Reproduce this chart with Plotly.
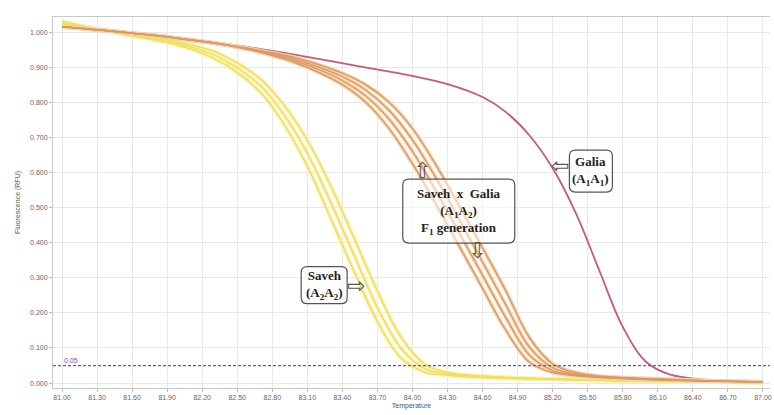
import plotly.graph_objects as go

# ---------------- data ----------------
X_TICKS = [81.0, 81.3, 81.6, 81.9, 82.2, 82.5, 82.8, 83.1, 83.4, 83.7, 84.0,
           84.3, 84.6, 84.9, 85.2, 85.5, 85.8, 86.1, 86.4, 86.7, 87.0]
Y_TICKS = [0.0, 0.1, 0.2, 0.3, 0.4, 0.5, 0.6, 0.7, 0.8, 0.9, 1.0]
THRESHOLD = 0.05

SAVEH_T = [81.0, 81.5, 82.0, 82.3, 82.5, 82.7, 82.9, 83.1, 83.3, 83.5, 83.7, 83.9,
           84.1, 84.3, 84.6, 85.0, 85.5, 86.0, 86.5, 87.0]
SAVEH_1 = [1.030, 0.995, 0.962, 0.925, 0.885, 0.828, 0.738, 0.618, 0.470, 0.318, 0.175, 0.072,
           0.032, 0.022, 0.016, 0.012, 0.008, 0.005, 0.003, 0.002]
SAVEH_2 = [1.025, 0.998, 0.967, 0.935, 0.898, 0.847, 0.765, 0.655, 0.515, 0.365, 0.215, 0.100,
           0.042, 0.026, 0.018, 0.013, 0.009, 0.006, 0.004, 0.002]
SAVEH_3 = [1.020, 1.000, 0.972, 0.945, 0.912, 0.866, 0.792, 0.692, 0.562, 0.413, 0.262, 0.132,
           0.055, 0.030, 0.020, 0.014, 0.010, 0.006, 0.004, 0.002]

F1_T = [81.0, 81.5, 82.0, 82.4, 82.6, 82.8, 83.0, 83.2, 83.4, 83.6, 83.8, 84.0, 84.2,
        84.4, 84.6, 84.8, 85.0, 85.2, 85.4, 85.6, 86.0, 86.5, 87.0]
F1_1 = [1.015, 1.000, 0.982, 0.964, 0.950, 0.933, 0.912, 0.885, 0.850, 0.800, 0.725, 0.625, 0.510,
        0.390, 0.270, 0.150, 0.060, 0.030, 0.021, 0.016, 0.010, 0.006, 0.003]
F1_2 = [1.015, 1.000, 0.982, 0.964, 0.951, 0.936, 0.917, 0.893, 0.862, 0.818, 0.752, 0.660, 0.548,
        0.428, 0.307, 0.186, 0.080, 0.036, 0.023, 0.017, 0.011, 0.006, 0.003]
F1_3 = [1.015, 1.000, 0.982, 0.964, 0.952, 0.939, 0.922, 0.900, 0.873, 0.835, 0.777, 0.693, 0.585,
        0.466, 0.345, 0.222, 0.103, 0.044, 0.026, 0.018, 0.012, 0.007, 0.003]
F1_4 = [1.015, 1.000, 0.982, 0.964, 0.953, 0.941, 0.927, 0.907, 0.883, 0.850, 0.800, 0.725, 0.622,
        0.505, 0.385, 0.262, 0.130, 0.055, 0.030, 0.020, 0.013, 0.007, 0.003]

GALIA_T = [81.0, 81.5, 82.0, 82.5, 83.0, 83.5, 84.0, 84.3, 84.6, 84.8, 85.0, 85.2, 85.4,
           85.6, 85.8, 86.0, 86.2, 86.5, 87.0]
GALIA = [1.015, 1.000, 0.983, 0.962, 0.935, 0.905, 0.875, 0.852, 0.815, 0.772, 0.706, 0.612, 0.483,
         0.320, 0.160, 0.060, 0.025, 0.010, 0.003]

# ---------------- figure ----------------
fig = go.Figure()

GALIA_COLOR = "#c9577f"
SAVEH_COLOR = "#efdf5e"
SAVEH_HALO = "rgba(249,241,170,0.85)"
F1_COLOR = "#d99b62"
F1_HALO = "rgba(243,211,175,0.85)"

fig.add_trace(go.Scatter(x=GALIA_T, y=GALIA, mode="lines",
                         line=dict(color=GALIA_COLOR, width=1.8, shape="spline", smoothing=1.0),
                         showlegend=False, hoverinfo="skip"))
for ys in (SAVEH_1, SAVEH_2, SAVEH_3):
    fig.add_trace(go.Scatter(x=SAVEH_T, y=ys, mode="lines",
                             line=dict(color=SAVEH_HALO, width=4, shape="spline", smoothing=1.0),
                             showlegend=False, hoverinfo="skip"))
for ys in (SAVEH_1, SAVEH_2, SAVEH_3):
    fig.add_trace(go.Scatter(x=SAVEH_T, y=ys, mode="lines",
                             line=dict(color=SAVEH_COLOR, width=1.5, shape="spline", smoothing=1.0),
                             showlegend=False, hoverinfo="skip"))
for ys in (F1_1, F1_2, F1_3, F1_4):
    fig.add_trace(go.Scatter(x=F1_T, y=ys, mode="lines",
                             line=dict(color=F1_HALO, width=4, shape="spline", smoothing=1.0),
                             showlegend=False, hoverinfo="skip"))
for ys in (F1_1, F1_2, F1_3, F1_4):
    fig.add_trace(go.Scatter(x=F1_T, y=ys, mode="lines",
                             line=dict(color=F1_COLOR, width=1.5, shape="spline", smoothing=1.0),
                             showlegend=False, hoverinfo="skip"))

# threshold line and its label
fig.add_hline(y=THRESHOLD, line=dict(color="#5a5acf", width=1.2, dash="3px,2px"))
fig.add_annotation(x=81.0, y=THRESHOLD, text="0.05", showarrow=False, xanchor="left", yanchor="bottom",
                   font=dict(family="Liberation Sans", size=7, color="#5a5acf"))

SERIF = "Liberation Serif"
box_font = dict(family=SERIF, size=13, color="#222")


def rounded_box(x, y, w, h, r=6):
    a, b = w / 2, h / 2
    path = (f"M {-a + r},{-b} L {a - r},{-b} Q {a},{-b} {a},{-b + r} "
            f"L {a},{b - r} Q {a},{b} {a - r},{b} L {-a + r},{b} Q {-a},{b} {-a},{b - r} "
            f"L {-a},{-b + r} Q {-a},{-b} {-a + r},{-b} Z")
    fig.add_shape(type="path", path=path, xref="x", yref="y",
                  xsizemode="pixel", ysizemode="pixel", xanchor=x, yanchor=y,
                  line=dict(color="#555", width=1.2), fillcolor="rgba(255,255,255,0.55)",
                  layer="above")


def label_box(x, y, w, h, text):
    rounded_box(x, y, w, h)
    fig.add_annotation(x=x, y=y, text=text, showarrow=False, align="center", font=box_font)


def arrow(x, y, glyph, size=22):
    fig.add_annotation(x=x, y=y, text=glyph, showarrow=False,
                       font=dict(family="DejaVu Sans", size=size, color="#555"))


label_box(83.244, 0.279, 46, 37, "<b>Saveh</b><br><b>(A<sub>2</sub>A<sub>2</sub>)</b>")
arrow(83.52, 0.279, "⇨")
label_box(84.396, 0.49, 112, 64,
          "<b>Saveh  x  Galia</b><br><b>(A<sub>1</sub>A<sub>2</sub>)</b><br><b>F<sub>1</sub> generation</b>")
arrow(84.08, 0.607, "⇧")
arrow(84.55, 0.379, "⇩")
label_box(85.527, 0.604, 43, 42, "<b>Galia</b><br><b>(A<sub>1</sub>A<sub>1</sub>)</b>")
arrow(85.26, 0.62, "⇦")

tick_font = dict(family="Liberation Sans", size=7, color="#666")
fig.update_xaxes(range=[80.923, 87.06], tickvals=X_TICKS, ticktext=[f"{v:.2f}" for v in X_TICKS],
                 tickfont=tick_font, showgrid=True, gridcolor="#e8e8e8", gridwidth=1,
                 showline=True, linecolor="#c8c8c8", ticks="outside", ticklen=3, tickcolor="#bbb",
                 zeroline=False, mirror=True,
                 title=dict(text="Temperature", font=dict(family="Liberation Sans", size=7, color="#555"),
                            standoff=2))
fig.update_yaxes(range=[-0.014, 1.043], tickvals=Y_TICKS, ticktext=[f"{v:.3f}" for v in Y_TICKS],
                 tickfont=tick_font, showgrid=True, gridcolor="#e8e8e8", gridwidth=1,
                 showline=True, linecolor="#c8c8c8", ticks="outside", ticklen=3, tickcolor="#bbb",
                 zeroline=False,
                 title=dict(text="Fluorescence (RFU)", font=dict(family="Liberation Sans", size=7, color="#555"),
                            standoff=8))

fig.update_layout(width=774, height=415, margin=dict(l=53, r=2, t=17, b=27),
                  paper_bgcolor="white", plot_bgcolor="white", showlegend=False, hovermode=False)

fig.write_html("out.html", config={"displayModeBar": False},
               post_script="document.body.style.margin='0px';")
